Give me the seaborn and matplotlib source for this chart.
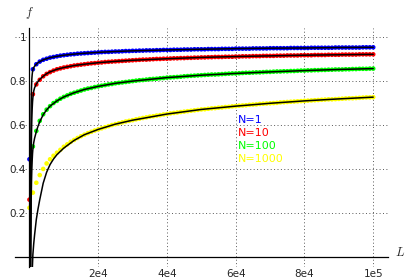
import numpy as np
import pandas as pd
import matplotlib
matplotlib.use("Agg")
import matplotlib.pyplot as plt
from matplotlib.ticker import FixedLocator, MultipleLocator, FixedFormatter
from matplotlib.lines import Line2D
import seaborn as sns

# ---------------- data ----------------
labels = ["N=1", "N=10", "N=100", "N=1000"]
colors = ["#0000ff", "#ff0000", "#00ff00", "#ffff00"]

L_dots = list(range(0, 100001, 1000))

f_N1 = [0.444, 0.854, 0.877, 0.889, 0.897, 0.902, 0.907, 0.910, 0.913, 0.916, 0.918,
        0.920, 0.922, 0.923, 0.925, 0.926, 0.927, 0.928, 0.929, 0.930, 0.931,
        0.932, 0.933, 0.933, 0.934, 0.935, 0.935, 0.936, 0.937, 0.937, 0.938,
        0.938, 0.939, 0.939, 0.940, 0.940, 0.940, 0.941, 0.941, 0.942, 0.942,
        0.942, 0.943, 0.943, 0.943, 0.944, 0.944, 0.944, 0.945, 0.945, 0.945,
        0.945, 0.946, 0.946, 0.946, 0.946, 0.947, 0.947, 0.947, 0.947, 0.948,
        0.948, 0.948, 0.948, 0.948, 0.949, 0.949, 0.949, 0.949, 0.949, 0.950,
        0.950, 0.950, 0.950, 0.950, 0.950, 0.951, 0.951, 0.951, 0.951, 0.951,
        0.951, 0.952, 0.952, 0.952, 0.952, 0.952, 0.952, 0.952, 0.953, 0.953,
        0.953, 0.953, 0.953, 0.953, 0.953, 0.953, 0.954, 0.954, 0.954, 0.954]

f_N10 = [0.260, 0.740, 0.785, 0.806, 0.822, 0.833, 0.841, 0.848, 0.854, 0.858, 0.862,
         0.865, 0.868, 0.871, 0.873, 0.875, 0.877, 0.879, 0.881, 0.882, 0.884,
         0.885, 0.887, 0.888, 0.889, 0.890, 0.891, 0.892, 0.893, 0.894, 0.895,
         0.896, 0.897, 0.898, 0.898, 0.899, 0.900, 0.901, 0.901, 0.902, 0.902,
         0.903, 0.904, 0.904, 0.905, 0.905, 0.906, 0.906, 0.907, 0.907, 0.908,
         0.908, 0.909, 0.909, 0.910, 0.910, 0.910, 0.911, 0.911, 0.911, 0.912,
         0.912, 0.913, 0.913, 0.913, 0.914, 0.914, 0.914, 0.915, 0.915, 0.915,
         0.915, 0.916, 0.916, 0.916, 0.917, 0.917, 0.917, 0.917, 0.918, 0.918,
         0.918, 0.918, 0.919, 0.919, 0.919, 0.919, 0.920, 0.920, 0.920, 0.920,
         0.921, 0.921, 0.921, 0.921, 0.921, 0.922, 0.922, 0.922, 0.922, 0.922]

f_N100 = [np.nan, 0.502, 0.573, 0.619, 0.649, 0.670, 0.686, 0.700, 0.710, 0.720, 0.728,
          0.735, 0.742, 0.747, 0.752, 0.757, 0.762, 0.766, 0.769, 0.773, 0.776,
          0.779, 0.782, 0.785, 0.787, 0.790, 0.792, 0.794, 0.796, 0.798, 0.800,
          0.802, 0.804, 0.805, 0.807, 0.809, 0.810, 0.811, 0.813, 0.814, 0.816,
          0.817, 0.818, 0.819, 0.820, 0.822, 0.823, 0.824, 0.825, 0.826, 0.827,
          0.828, 0.829, 0.830, 0.830, 0.831, 0.832, 0.833, 0.834, 0.835, 0.835,
          0.836, 0.837, 0.838, 0.838, 0.839, 0.840, 0.840, 0.841, 0.842, 0.842,
          0.843, 0.844, 0.844, 0.845, 0.845, 0.846, 0.846, 0.847, 0.848, 0.848,
          0.849, 0.849, 0.850, 0.850, 0.851, 0.851, 0.852, 0.852, 0.853, 0.853,
          0.853, 0.854, 0.854, 0.855, 0.855, 0.856, 0.856, 0.856, 0.857, 0.857]

f_N1000 = [0.223, 0.292, 0.337, 0.372, 0.400, 0.425, 0.444, 0.460, 0.474, 0.487, 0.501,
           0.512, 0.523, 0.532, 0.541, 0.549, 0.556, 0.563, 0.569, 0.575, 0.580,
           0.585, 0.590, 0.595, 0.600, 0.604, 0.608, 0.612, 0.616, 0.619, 0.622,
           0.626, 0.629, 0.632, 0.635, 0.638, 0.640, 0.643, 0.645, 0.648, 0.650,
           0.653, 0.655, 0.657, 0.659, 0.661, 0.663, 0.665, 0.667, 0.669, 0.671,
           0.672, 0.674, 0.676, 0.677, 0.679, 0.680, 0.682, 0.683, 0.685, 0.686,
           0.688, 0.689, 0.690, 0.692, 0.693, 0.694, 0.696, 0.697, 0.698, 0.699,
           0.700, 0.701, 0.703, 0.704, 0.705, 0.706, 0.707, 0.708, 0.709, 0.710,
           0.711, 0.712, 0.713, 0.714, 0.715, 0.716, 0.717, 0.717, 0.718, 0.719,
           0.720, 0.721, 0.722, 0.722, 0.723, 0.724, 0.725, 0.726, 0.726, 0.727]

# black fitted curves
L_fit = [300, 400, 500, 600, 700, 800, 900, 1000, 1250, 1500, 2000, 2500, 3000, 4000,
         5000, 6000, 8000, 10000, 13000, 16000, 20000, 25000, 30000, 40000, 50000,
         60000, 70000, 80000, 90000, 100000]
fit_N1 = [-0.06, 0.50, 0.69, 0.77, 0.81, 0.83, 0.843, 0.852, 0.862, 0.868, 0.877, 0.884,
          0.889, 0.897, 0.902, 0.907, 0.913, 0.918, 0.923, 0.927, 0.931, 0.935, 0.938,
          0.942, 0.945, 0.948, 0.950, 0.951, 0.953, 0.954]
fit_N10 = [-0.06, 0.25, 0.45, 0.56, 0.63, 0.675, 0.705, 0.725, 0.755, 0.77, 0.787, 0.798,
           0.808, 0.822, 0.834, 0.842, 0.854, 0.862, 0.871, 0.877, 0.884, 0.890, 0.895,
           0.902, 0.908, 0.912, 0.915, 0.918, 0.920, 0.922]
fit_N100 = [-0.06, 0.10, 0.25, 0.34, 0.40, 0.44, 0.47, 0.49, 0.52, 0.54, 0.570, 0.595,
            0.615, 0.647, 0.669, 0.686, 0.710, 0.728, 0.747, 0.762, 0.776, 0.790, 0.800,
            0.816, 0.827, 0.835, 0.842, 0.848, 0.853, 0.857]
L_fit_N1000 = [850, 1000, 1250, 1500, 2000, 2500, 3000, 4000, 5000, 6000, 7000, 8000,
               10000, 13000, 16000, 20000, 25000, 30000, 40000, 50000, 60000, 70000,
               80000, 90000, 100000]
fit_N1000 = [-0.05, 0.01, 0.06, 0.10, 0.17, 0.218, 0.26, 0.335, 0.385, 0.42, 0.445,
             0.465, 0.495, 0.530, 0.556, 0.580, 0.604, 0.622, 0.650, 0.671, 0.686,
             0.699, 0.710, 0.719, 0.727]

x_ticks = [20000, 40000, 60000, 80000, 100000]
x_ticklabels = ["2e4", "4e4", "6e4", "8e4", "1e5"]
y_ticks = [0.2, 0.4, 0.6, 0.8, 1.0]
y_ticklabels = ["0.2", "0.4", "0.6", "0.8", "1"]

# ---------------- build tables ----------------
dots = pd.concat([
    pd.DataFrame({"L": L_dots, "f": vals, "N": lab})
    for vals, lab in zip([f_N1, f_N10, f_N100, f_N1000], labels)
]).dropna()

fits = [(L_fit, fit_N1), (L_fit, fit_N10), (L_fit, fit_N100), (L_fit_N1000, fit_N1000)]

# ---------------- plot ----------------
sns.set_style("white")
plt.rcParams["mathtext.fontset"] = "cm"
plt.rcParams["font.family"] = ["DejaVu Sans"]

fig = plt.figure(figsize=(4.12, 2.79), dpi=100)
ax = fig.add_axes([15 / 412, 1 - 266.6 / 279, 373 / 412, 238.6 / 279])

sns.scatterplot(data=dots, x="L", y="f", hue="N", hue_order=labels,
                palette=dict(zip(labels, colors)), s=11, linewidth=0,
                legend=False, ax=ax, zorder=2)
for xs, ys in fits:
    sns.lineplot(x=xs, y=ys, color="black", lw=1.1, estimator=None, sort=False,
                 ax=ax, zorder=3)

ax.set_xlim(-4200, 104300)
ax.set_ylim(-0.045, 1.042)

for side in ["top", "right"]:
    ax.spines[side].set_visible(False)
ax.spines["left"].set_position(("data", 0))
ax.spines["bottom"].set_position(("data", 0))
for side in ["left", "bottom"]:
    ax.spines[side].set_color("black")
    ax.spines[side].set_linewidth(0.9)

ax.xaxis.set_major_locator(FixedLocator(x_ticks))
ax.xaxis.set_major_formatter(FixedFormatter(x_ticklabels))
ax.xaxis.set_minor_locator(MultipleLocator(5000))
ax.yaxis.set_major_locator(FixedLocator(y_ticks))
ax.yaxis.set_major_formatter(FixedFormatter(y_ticklabels))
ax.yaxis.set_minor_locator(MultipleLocator(0.05))

ax.tick_params(which="both", direction="in", color="black", width=0.8)
ax.tick_params(which="major", length=4)
ax.tick_params(which="minor", length=2)
ax.tick_params(axis="x", which="major", pad=8.5, labelsize=7.5)
ax.tick_params(axis="y", which="major", pad=2.5, labelsize=7.5)

ax.grid(True, which="major", linestyle=(0, (1, 2.5)), color="0.35", lw=0.7)
ax.set_xlabel("")
ax.set_ylabel("")

ax.text(1.032, 0.058, "$L$", transform=ax.transAxes, fontsize=9,
        ha="center", va="center")
ax.text(0.040, 1.063, "$f$", transform=ax.transAxes, fontsize=9,
        ha="center", va="center")

handles = [Line2D([], [], linestyle="none", marker="") for _ in labels]
ax.legend(handles, labels, loc="upper left", bbox_to_anchor=(0.598, 0.636),
          frameon=False, handlelength=0, handletextpad=0, borderpad=0,
          borderaxespad=0, labelspacing=0.28, fontsize=8, labelcolor=colors)

fig.savefig("out.png", dpi=100)
